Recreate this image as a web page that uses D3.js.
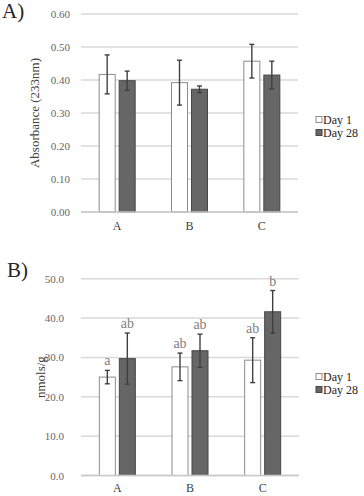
<!DOCTYPE html>
<html>
<head>
<meta charset="utf-8">
<script src="https://cdn.jsdelivr.net/npm/d3@7"></script>
<style>
  body { margin: 0; background: #fff; }
  svg text { font-family: "Liberation Serif", "DejaVu Serif", serif; }
</style>
</head>
<body>
<div id="chart"></div>
<script>
// data
var groups = ["A", "B", "C"];
var seriesNames = ["Day 1", "Day 28"];

var absDay1 = [0.417, 0.392, 0.457];
var absDay1Err = [0.059, 0.068, 0.051];
var absDay28 = [0.398, 0.372, 0.415];
var absDay28Err = [0.029, 0.010, 0.042];
var absTicks = [0, 0.1, 0.2, 0.3, 0.4, 0.5, 0.6];

var nmolDay1 = [25.0, 27.6, 29.3];
var nmolDay1Err = [1.7, 3.5, 5.7];
var nmolDay28 = [29.7, 31.7, 41.6];
var nmolDay28Err = [6.5, 4.2, 5.4];
var nmolLetters1 = ["a", "ab", "ab"];
var nmolLetters28 = ["ab", "ab", "b"];
var nmolTicks = [0, 10, 20, 30, 40, 50];

var W = 364, H = 496;

var svg = d3.select("#chart").append("svg")
  .attr("width", W)
  .attr("height", H);

function drawPanel(p) {
  var g = svg.append("g");

  var x = d3.scaleBand().domain(groups).range([p.x0, p.x1]);
  var sub = d3.scaleBand().domain(seriesNames).range([0, 36]).paddingInner(0.2);
  var y = d3.scaleLinear().domain([0, p.max]).range([p.yBottom, p.yTop]);

  // gridlines
  g.selectAll(".grid").data(p.ticks).enter().append("line")
    .attr("x1", p.x0).attr("x2", p.x1)
    .attr("y1", function (d) { return y(d); })
    .attr("y2", function (d) { return y(d); })
    .attr("stroke", "#d9d9d9")
    .attr("stroke-width", 1.5);

  // y axis labels
  var yAxis = g.append("g")
    .attr("transform", "translate(" + p.tickRight + ",0)")
    .call(d3.axisLeft(y).tickValues(p.ticks).tickFormat(d3.format(p.fmt)).tickSize(0).tickPadding(0));
  yAxis.attr("font-family", null).attr("font-size", null);
  yAxis.select(".domain").remove();
  yAxis.selectAll("text")
    .attr("font-size", 11)
    .attr("fill", "#666666");

  // x axis labels
  var xAxis = g.append("g")
    .attr("transform", "translate(0," + p.yBottom + ")")
    .call(d3.axisBottom(x).tickSize(0).tickPadding(p.xPad));
  xAxis.attr("font-family", null).attr("font-size", null);
  xAxis.select(".domain").remove();
  xAxis.selectAll("text")
    .attr("font-size", 12)
    .attr("fill", "#404040");

  var rows = [];
  groups.forEach(function (grp, i) {
    rows.push({ g: grp, s: "Day 1", v: p.v1[i], e: p.e1[i], l: p.l1 ? p.l1[i] : null });
    rows.push({ g: grp, s: "Day 28", v: p.v28[i], e: p.e28[i], l: p.l28 ? p.l28[i] : null });
  });
  function cx(d) {
    return x(d.g) + x.bandwidth() / 2 - 18 + sub(d.s);
  }

  g.selectAll(".bar").data(rows).enter().append("rect")
    .attr("x", function (d) { return cx(d); })
    .attr("width", sub.bandwidth())
    .attr("y", function (d) { return y(d.v); })
    .attr("height", function (d) { return y(0) - y(d.v); })
    .attr("fill", function (d) { return d.s == "Day 1" ? "#ffffff" : "#666666"; })
    .attr("stroke", function (d) { return d.s == "Day 1" ? "#8c8c8c" : "#474747"; })
    .attr("stroke-width", 1);

  // error bars
  var eb = g.selectAll(".err").data(rows).enter().append("g")
    .attr("stroke", "#404040")
    .attr("stroke-width", 1.4);
  eb.append("line")
    .attr("x1", function (d) { return cx(d) + sub.bandwidth() / 2; })
    .attr("x2", function (d) { return cx(d) + sub.bandwidth() / 2; })
    .attr("y1", function (d) { return y(d.v + d.e); })
    .attr("y2", function (d) { return y(d.v - d.e); });
  [1, -1].forEach(function (sgn) {
    eb.append("line")
      .attr("x1", function (d) { return cx(d) + sub.bandwidth() / 2 - 2.5; })
      .attr("x2", function (d) { return cx(d) + sub.bandwidth() / 2 + 2.5; })
      .attr("y1", function (d) { return y(d.v + sgn * d.e); })
      .attr("y2", function (d) { return y(d.v + sgn * d.e); });
  });

  // significance letters
  g.selectAll(".letter").data(rows.filter(function (d) { return d.l; })).enter().append("text")
    .attr("x", function (d) { return cx(d) + sub.bandwidth() / 2; })
    .attr("y", function (d) { return y(d.v + d.e) - 5; })
    .attr("text-anchor", "middle")
    .attr("font-size", 14)
    .attr("fill", "#808080")
    .text(function (d) { return d.l; });

  // baseline
  g.append("line")
    .attr("x1", p.x0).attr("x2", p.x1)
    .attr("y1", y(0)).attr("y2", y(0))
    .attr("stroke", "#c8c8c8")
    .attr("stroke-width", 1.5);

  // y axis title
  g.append("text")
    .attr("transform", "translate(" + p.titleX + "," + ((p.yTop + p.yBottom) / 2) + ") rotate(-90)")
    .attr("text-anchor", "middle")
    .attr("font-size", 13)
    .attr("fill", "#404040")
    .text(p.title);

  // panel letter
  g.append("text")
    .attr("x", p.panelX).attr("y", p.panelY)
    .attr("font-size", 21)
    .attr("fill", "#262626")
    .text(p.panel);

  // legend
  var leg = g.selectAll(".leg").data(seriesNames).enter().append("g")
    .attr("transform", function (d, i) { return "translate(316," + p.legY[i] + ")"; });
  leg.append("rect")
    .attr("x", 0).attr("y", -3.5)
    .attr("width", 6).attr("height", 6)
    .attr("fill", function (d) { return d == "Day 1" ? "#ffffff" : "#666666"; })
    .attr("stroke", function (d) { return d == "Day 1" ? "#8c8c8c" : "#474747"; });
  leg.append("text")
    .attr("x", 7).attr("y", 4)
    .attr("font-size", 12)
    .attr("fill", "#262626")
    .text(function (d) { return d; });
}

drawPanel({
  panel: "A)", panelX: 2, panelY: 18,
  x0: 81, x1: 298, yTop: 14, yBottom: 212, max: 0.6,
  ticks: absTicks, fmt: ".2f", tickRight: 70, xPad: 9,
  v1: absDay1, e1: absDay1Err, v28: absDay28, e28: absDay28Err,
  title: "Absorbance (233nm)", titleX: 39,
  legY: [120, 133]
});

drawPanel({
  panel: "B)", panelX: 7, panelY: 277,
  x0: 81, x1: 299, yTop: 278.7, yBottom: 475.5, max: 50,
  ticks: nmolTicks, fmt: ".1f", tickRight: 64, xPad: 8,
  v1: nmolDay1, e1: nmolDay1Err, v28: nmolDay28, e28: nmolDay28Err,
  l1: nmolLetters1, l28: nmolLetters28,
  title: "nmols/g", titleX: 45,
  legY: [377, 390]
});
</script>
</body>
</html>
